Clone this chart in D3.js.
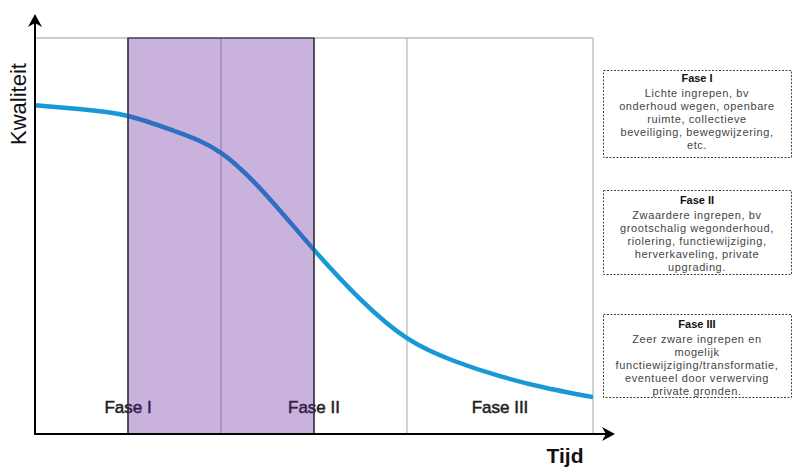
<!DOCTYPE html>
<html><head><meta charset="utf-8">
<script src="https://cdn.jsdelivr.net/npm/d3@7"></script>
<style>body{margin:0;background:#fff;}svg{display:block;}</style>
</head><body>
<script>
// Data
const timeValues = [0, 0.5, 1, 1.5, 2, 2.5, 3, 3.5, 4, 4.5, 5, 5.5, 6];
const qualityValues = [83, 82, 80.3, 76.5, 71, 60, 46.5, 34, 24.2, 18.5, 14.6, 11.6, 9.3];
const phaseBoundaries = [1, 2, 3, 4, 6];
const phaseLabels = ["Fase I", "Fase II", "Fase III"];
const phaseLabelPositions = [1, 3, 5];
const highlightRange = [1, 3];
const boxTitles = ["Fase I", "Fase II", "Fase III"];
const boxLines = [
  ["Lichte ingrepen, bv", "onderhoud wegen, openbare", "ruimte, collectieve", "beveiliging, bewegwijzering,", "etc."],
  ["Zwaardere ingrepen, bv", "grootschalig wegonderhoud,", "riolering, functiewijziging,", "herverkaveling, private", "upgrading."],
  ["Zeer zware ingrepen en", "mogelijk", "functiewijziging/transformatie,", "eventueel door verwerving", "private gronden."]
];
const yLabel = "Kwaliteit";
const xLabel = "Tijd";

const W = 807, H = 472;
const svg = d3.select("body").append("svg").attr("width", W).attr("height", H);
const x = d3.scaleLinear().domain([0, 6]).range([35, 593]);
const y = d3.scaleLinear().domain([0, 100]).range([434, 38]);
const font = "'Liberation Sans', Arial, Helvetica, sans-serif";

// frame
svg.append("line").attr("x1", x(0)).attr("x2", x(6)).attr("y1", y(100)).attr("y2", y(100)).attr("stroke", "#999").attr("stroke-width", 1);
phaseBoundaries.forEach(b => {
  const inHi = b === highlightRange[0] || b === highlightRange[1];
  svg.append("line").attr("x1", x(b)).attr("x2", x(b)).attr("y1", y(100)).attr("y2", y(0))
    .attr("stroke", inHi ? "#3a3a3a" : "#b5b5b5").attr("stroke-width", 1.2);
});

// phase labels
phaseLabels.forEach((t, i) => {
  svg.append("text").attr("x", x(phaseLabelPositions[i])).attr("y", 413)
    .attr("text-anchor", "middle").attr("font-family", font).attr("font-size", 17)
    .attr("fill", "#222").attr("stroke", "#222").attr("stroke-width", 0.5).text(t);
});

// curve
const line = d3.line().x((d, i) => x(timeValues[i])).y(d => y(d)).curve(d3.curveNatural);
svg.append("path").datum(qualityValues).attr("d", line).attr("fill", "none")
  .attr("stroke", "#1899d6").attr("stroke-width", 4.5).attr("stroke-linecap", "butt");

// purple overlay
svg.append("rect").attr("x", x(highlightRange[0])).attr("y", y(100))
  .attr("width", x(highlightRange[1]) - x(highlightRange[0])).attr("height", y(0) - y(100))
  .attr("fill", "rgb(93,27,153)").attr("fill-opacity", 0.333)
  .attr("stroke", "#3a3040").attr("stroke-width", 1.2);

// axes
svg.append("line").attr("x1", x(0)).attr("x2", x(0)).attr("y1", y(0) + 1).attr("y2", 22).attr("stroke", "#000").attr("stroke-width", 2);
svg.append("line").attr("x1", x(0) - 1).attr("x2", 607).attr("y1", y(0)).attr("y2", y(0)).attr("stroke", "#000").attr("stroke-width", 2);
svg.append("path").attr("d", `M${x(0)},14 L${x(0)+7},27 L${x(0)},23 L${x(0)-7},27 Z`).attr("fill", "#000");
svg.append("path").attr("d", `M615,${y(0)} L602,${y(0)-7} L606,${y(0)} L602,${y(0)+7} Z`).attr("fill", "#000");

svg.append("text").attr("transform", `translate(26,104) rotate(-90)`).attr("text-anchor", "middle")
  .attr("font-family", font).attr("font-size", 22).attr("fill", "#111").text(yLabel);
svg.append("text").attr("x", 565).attr("y", 463).attr("text-anchor", "middle")
  .attr("font-family", font).attr("font-size", 21).attr("font-weight", "bold").attr("fill", "#111").text(xLabel);

// info boxes
const boxes = [{y0: 70, y1: 157, t: 82}, {y0: 190, y1: 274, t: 204}, {y0: 314, y1: 397, t: 328}];
boxes.forEach((b, i) => {
  svg.append("rect").attr("x", 603.5).attr("y", b.y0 + 0.5).attr("width", 188).attr("height", b.y1 - b.y0)
    .attr("fill", "none").attr("stroke", "#444").attr("stroke-width", 1).attr("stroke-dasharray", "2,1.5");
  svg.append("text").attr("x", 697).attr("y", b.t).attr("text-anchor", "middle")
    .attr("font-family", font).attr("font-size", 11).attr("font-weight", "bold").attr("fill", "#111").text(boxTitles[i]);
  boxLines[i].forEach((l, j) => {
    svg.append("text").attr("x", 697).attr("y", b.t + 14.5 + j * 13).attr("text-anchor", "middle")
      .attr("font-family", font).attr("font-size", 11).attr("letter-spacing", 0.6).attr("fill", "#444").text(l);
  });
});
</script>
</body></html>
